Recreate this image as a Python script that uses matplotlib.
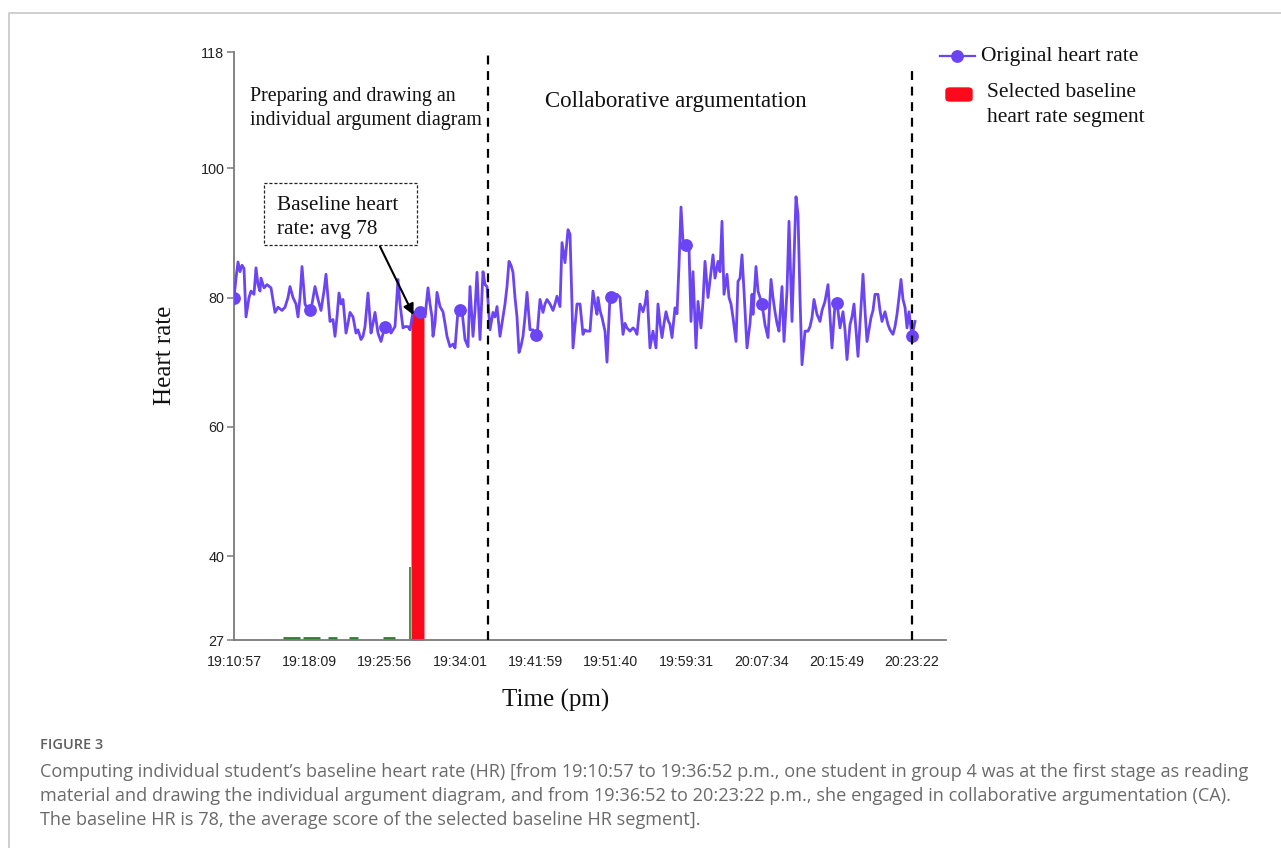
import numpy as np
import matplotlib
matplotlib.use("Agg")
import matplotlib.pyplot as plt
from matplotlib.lines import Line2D
from matplotlib.patches import FancyBboxPatch, Rectangle

# ---------------- data (sample index, heart rate), in four chunks ----------------
sample_a = [0, 2, 4, 6, 8, 10, 12, 15, 17, 20,
            22, 24, 26, 27, 30, 33, 37, 41, 44, 48,
            51, 54, 56, 59, 62, 64, 66, 68, 70, 71,
            74, 76, 78, 81, 84, 87, 90, 92, 94, 96,
            99, 101, 103, 105, 107, 109, 112, 114, 116, 119,
            122, 124, 127, 129, 131, 134, 137, 139, 141, 144,
            147, 150, 152, 155, 157, 159, 161, 164, 166, 169,
            171, 174]
hr_a = [80, 83, 85.5, 84, 85, 84.5, 77, 80, 81, 80.5,
        84.6, 82, 81, 83, 81.5, 82, 81.5, 77.7, 78.5, 78,
        78.5, 80, 81.7, 80, 79, 77, 80, 84.8, 81, 79,
        78, 78, 79, 81.7, 79.7, 78, 81, 83.6, 80, 76.3,
        76.6, 74, 77, 80.7, 79, 79.7, 74.5, 76, 77.7, 77,
        74.5, 75, 73.5, 74, 75.5, 80.7, 74.5, 76, 77.7, 74.5,
        73.2, 75, 76, 75.5, 74.5, 75, 75.5, 82.8, 79, 75.3,
        75.5, 75.5]
sample_b = [176, 179, 183, 186, 189, 191, 194, 196, 198, 199,
            201, 203, 206, 209, 211, 213, 216, 219, 221, 224,
            226, 228, 231, 234, 236, 239, 241, 243, 246, 249,
            251, 253, 256, 259, 261, 263, 266, 269, 271, 273,
            275, 277, 279, 281, 283, 285, 287, 289, 291, 293,
            296, 299, 301, 303, 306, 309, 311, 313, 316, 319,
            321, 323, 326, 328, 331, 334, 336, 338, 339]
hr_b = [75, 77.8, 77.5, 77.7, 77.7, 77, 81.5, 79, 77, 74,
        76, 80.8, 78.6, 77.8, 76, 74, 72.4, 72.8, 72.2, 78,
        78, 78, 73.5, 72.4, 81.7, 74, 78, 83.9, 73.5, 84,
        82, 81.7, 75, 77.7, 77, 78.6, 74, 77, 79, 81.7,
        85.6, 85, 83.9, 80, 77, 71.5, 72.5, 74, 77, 80.8,
        75, 75, 74.5, 74, 79.7, 77.7, 79, 79.7, 79, 78,
        79, 80.2, 78.6, 88.5, 85.4, 90.5, 89.8, 79, 72.2]
sample_c = [343, 346, 349, 351, 353, 356, 359, 361, 363, 364,
            366, 368, 371, 373, 376, 379, 381, 383, 386, 389,
            391, 393, 396, 399, 401, 403, 406, 409, 411, 413,
            416, 419, 422, 424, 426, 428, 430, 432, 434, 436,
            438, 441, 443, 445, 447, 449, 451, 453, 455, 457,
            459, 462, 464, 467, 469, 471, 474, 477, 479, 481,
            484, 486, 488, 490, 493, 495, 497, 499, 502, 504,
            506, 508, 510, 513]
hr_c = [79, 79, 74.3, 75, 74.8, 74.8, 81, 79, 77.4, 80,
        78, 76.9, 74.8, 70, 80.2, 80, 80, 80.5, 80, 74.3,
        76, 75.3, 74.8, 75.3, 75, 74.3, 79, 77.8, 79, 81,
        72.2, 74.8, 72.2, 79, 76, 73.8, 76, 77.8, 76.5, 75.8,
        73.8, 78.4, 77.5, 85, 94, 88.7, 88.3, 88, 87.7, 76.3,
        84, 72.2, 79.4, 75.3, 79.4, 85.6, 80, 84, 86.6, 83,
        85.6, 84, 91.8, 80.5, 83.6, 80, 79, 76.9, 73.2, 82.5,
        83, 86.6, 81, 72.2]
sample_d = [516, 518, 519, 522, 524, 526, 528, 531, 534, 537,
            539, 541, 543, 545, 548, 550, 553, 555, 558, 560,
            562, 564, 566, 568, 571, 574, 576, 578, 580, 583,
            586, 588, 591, 594, 596, 598, 601, 603, 606, 609,
            611, 613, 616, 618, 620, 622, 624, 626, 629, 631,
            633, 635, 637, 639, 641, 644, 646, 648, 651, 654,
            656, 659, 661, 663, 665, 667, 669, 671, 673, 675,
            678, 681]
hr_d = [76, 80.5, 77.4, 84.8, 81, 80, 79, 75.8, 73.8, 82.8,
        80, 77.8, 76, 74.8, 81.7, 73.2, 81, 91.8, 76.3, 86,
        95.6, 92.9, 80, 69.6, 74.8, 74.8, 75.5, 76.9, 79.7, 77.4,
        76.3, 78, 79.4, 82, 77, 72.2, 79, 79.2, 75.3, 77.8,
        75, 70.4, 75.8, 77, 79, 75, 70.9, 76, 83.6, 78,
        73.2, 75, 76.9, 78, 80.5, 80.5, 78, 76.3, 77.8, 75.8,
        75, 74.3, 75.5, 77.4, 80, 82.8, 79.7, 78.5, 75.3, 77.8,
        74, 76.3]

marker_samples = [0, 76, 151, 186, 226, 302, 377, 452, 528, 603, 678]
baseline_start, baseline_end = 177, 190
green_start = [49, 69, 94, 115, 149]
green_end = [66, 86, 103, 124, 161]
green_spike_sample, green_spike_value = 176, 38.3
phase_boundaries = [254, 678]
tick_labels = ["19:10:57", "19:18:09", "19:25:56", "19:34:01", "19:41:59",
               "19:51:40", "19:59:31", "20:07:34", "20:15:49", "20:23:22"]
yticks = [27, 40, 60, 80, 100, 118]

sample = np.array(sample_a + sample_b + sample_c + sample_d, dtype=float)
hr = np.array(hr_a + hr_b + hr_c + hr_d, dtype=float)
n = min(len(sample), len(hr))
sample, hr = sample[:n], hr[:n]

# ---------------- figure ----------------
W, H = 1281, 848
fig = plt.figure(figsize=(W / 100, H / 100), dpi=100)
fig.patch.set_facecolor("white")

def fx(px):
    return px / W

def fy(py):
    return 1 - py / H

serif = "Liberation Serif"
sans = "Liberation Sans"
purple = "#6b44f4"
red = "#fb0a1c"

ax = fig.add_axes([fx(234), fy(640), (946 - 234) / W, (640 - 52) / H])
ax.set_xlim(0, 712)
ax.set_ylim(27, 118)

for s in ["top", "right"]:
    ax.spines[s].set_visible(False)
for s in ["left", "bottom"]:
    ax.spines[s].set_color("#7a7a7a")
    ax.spines[s].set_linewidth(1.3)

# baseline segment (red) filled under the line
seg_x = np.linspace(baseline_start, baseline_end, 40)
seg_y = np.interp(seg_x, sample, hr)
ax.fill_between(seg_x, 27, seg_y, color=red, lw=0, zorder=2)

# green series along the bottom
ax.hlines([27.35] * len(green_start), green_start, green_end, color="#2f7d2f", lw=2.0, zorder=2, clip_on=False)
ax.vlines([green_spike_sample], 27, green_spike_value, color="#2f7d2f", lw=1.2, zorder=2)

# heart rate line
ax.plot(sample, hr, color=purple, lw=2.0, zorder=3, solid_joinstyle="round")
ms = np.array(marker_samples, dtype=float)
ax.plot(ms, np.interp(ms, sample, hr), "o", color=purple, ms=8.2, zorder=4)

# phase boundaries
ax.vlines([phase_boundaries[0]], 27, 118.3, colors="black", linestyles=(0, (4, 3)), lw=1.6, clip_on=False, zorder=5)
ax.vlines([phase_boundaries[1]], 27, 115.3, colors="black", linestyles=(0, (4, 3)), lw=1.6, clip_on=False, zorder=5)

# ticks
ax.set_yticks(yticks)
ax.set_yticklabels([str(v) for v in yticks], fontfamily=sans, fontsize=10.4, color="#222222")
ax.tick_params(axis="y", length=5, width=1.1, color="#7a7a7a", pad=2)
ax.set_xticks(np.linspace(0, 678, len(tick_labels)))
ax.set_xticklabels(tick_labels, fontfamily=sans, fontsize=10.2, color="#222222")
ax.tick_params(axis="x", length=0, pad=11)

# annotation box + arrow
ax.add_patch(Rectangle((30, 88.1), 153, 9.6, fill=False, ec="#222222", lw=0.9, ls=(0, (2.5, 1.5)), zorder=5))
ax.annotate("", xy=(179.5, 77.3), xytext=(146, 87.9),
            arrowprops=dict(arrowstyle="-|>", color="black", lw=1.5, mutation_scale=16, shrinkA=0, shrinkB=0),
            zorder=6)

fig.text(fx(277), fy(217.5), "Baseline heart\nrate: avg 78", fontfamily=serif, fontsize=15.3,
         ha="left", va="center", linespacing=1.38, color="#111111")
fig.text(fx(250), fy(108.5), "Preparing and drawing an\nindividual argument diagram", fontfamily=serif,
         fontsize=14.4, ha="left", va="center", linespacing=1.4, color="#111111")
fig.text(fx(545), fy(101), "Collaborative argumentation", fontfamily=serif, fontsize=16.5,
         ha="left", va="center", color="#111111")

# axis labels
fig.text(fx(165), fy(355), "Heart rate", fontfamily=serif, fontsize=18, rotation=90,
         ha="center", va="center", color="#111111")
fig.text(fx(556), fy(700), "Time (pm)", fontfamily=serif, fontsize=18, ha="center", va="center",
         color="#111111")

# legend (manual)
fig.add_artist(Line2D([fx(940), fx(975)], [fy(56), fy(56)], color=purple, lw=1.6, transform=fig.transFigure))
fig.add_artist(Line2D([fx(957)], [fy(56)], marker="o", ms=8.2, color=purple, transform=fig.transFigure))
fig.text(fx(981), fy(57), "Original heart rate", fontfamily=serif, fontsize=15.5, ha="left", va="center",
         color="#111111")
fig.add_artist(FancyBboxPatch((fx(946), fy(101)), fx(972) - fx(946), (101 - 88) / H,
                              boxstyle="round,pad=0,rounding_size=0.003", fc=red, ec=red,
                              transform=fig.transFigure))
fig.text(fx(987), fy(105), "Selected baseline\nheart rate segment", fontfamily=serif, fontsize=15.5,
         ha="left", va="center", linespacing=1.38, color="#111111")

# frame
fig.add_artist(Line2D([fx(9), fx(9), 1.0], [0.0, fy(13), fy(13)], color="#cccccc", lw=1.3,
                      transform=fig.transFigure))

# caption
cap_color = "#6a6a6a"
fig.text(fx(40), fy(745), "FIGURE 3", fontfamily="Open Sans", fontweight="semibold", fontsize=10.5,
         ha="left", va="center", color="#5f5f5f")
cap_lines = [
    "Computing individual student\u2019s baseline heart rate (HR) [from 19:10:57 to 19:36:52 p.m., one student in group 4 was at the first stage as reading",
    "material and drawing the individual argument diagram, and from 19:36:52 to 20:23:22 p.m., she engaged in collaborative argumentation (CA).",
    "The baseline HR is 78, the average score of the selected baseline HR segment].",
]
for i, line in enumerate(cap_lines):
    fig.text(fx(40), fy(772 + 24 * i), line, fontfamily="Open Sans", fontsize=13.1,
             ha="left", va="center", color=cap_color)

fig.savefig("out.png", dpi=100)
